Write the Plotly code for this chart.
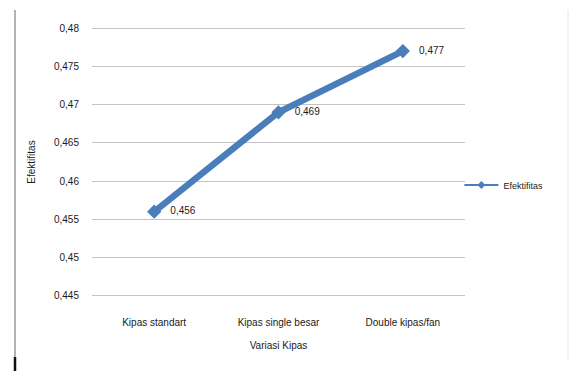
import plotly.graph_objects as go

categories = ["Kipas standart", "Kipas single besar", "Double kipas/fan"]
efektifitas = [0.456, 0.469, 0.477]
value_labels = ["0,456", "0,469", "0,477"]
y_ticks = [0.445, 0.45, 0.455, 0.46, 0.465, 0.47, 0.475, 0.48]
y_tick_labels = ["0,445", "0,45", "0,455", "0,46", "0,465", "0,47", "0,475", "0,48"]

W, H = 570, 371
M_L, M_R, M_T, M_B = 92, 105, 27, 74
FONT = "Liberation Sans"
TXT = "#1A1A1A"
BLUE = "#4A7EBB"

fig = go.Figure()
fig.add_trace(go.Scatter(
    x=categories,
    y=efektifitas,
    mode="lines+markers+text",
    name="Efektifitas",
    showlegend=False,
    line=dict(color=BLUE, width=6.5),
    marker=dict(symbol="diamond", size=11, color=BLUE),
    text=["   " + t for t in value_labels],
    textposition="middle right",
    textfont=dict(family=FONT, size=10, color=TXT),
    cliponaxis=False,
))
# legend key drawn with a thin line, like the spreadsheet style
fig.add_trace(go.Scatter(
    x=[None], y=[None],
    mode="lines+markers",
    name="Efektifitas",
    line=dict(color=BLUE, width=2),
    marker=dict(symbol="diamond", size=6, color=BLUE),
))

plot_w = W - M_L - M_R
plot_h = H - M_T - M_B

fig.update_layout(
    width=W, height=H,
    margin=dict(l=M_L, r=M_R, t=M_T, b=M_B),
    paper_bgcolor="white",
    plot_bgcolor="white",
    font=dict(family=FONT, size=10, color=TXT),
    showlegend=True,
    legend=dict(
        x=0.985, xanchor="left", y=(297 - 185) / plot_h, yanchor="middle",
        font=dict(family=FONT, size=9, color=TXT),
        bgcolor="rgba(0,0,0,0)",
        itemwidth=34,
    ),
    xaxis=dict(
        type="category",
        range=[-0.5, 2.5],
        showgrid=False,
        zeroline=False,
        showline=False,
        ticks="",
        ticklabelstandoff=18,
        tickfont=dict(family=FONT, size=10, color=TXT),
        title=dict(text="Variasi Kipas", font=dict(family=FONT, size=10, color=TXT), standoff=14),
    ),
    yaxis=dict(
        range=[0.44485, 0.48015],
        tickvals=y_ticks,
        ticktext=y_tick_labels,
        showgrid=True,
        gridcolor="#C4C4C4",
        gridwidth=1,
        zeroline=False,
        showline=False,
        ticks="",
        ticklabelstandoff=12,
        tickfont=dict(family=FONT, size=10, color=TXT),
        title=dict(text="Efektifitas", font=dict(family=FONT, size=10, color=TXT), standoff=16),
    ),
)

# outer frame edges of the chart area
fx = (15 - M_L) / plot_w
fig.add_shape(type="line", xref="paper", yref="paper",
              x0=fx, x1=fx, y0=(H - M_B - 371) / plot_h, y1=(H - M_B - 10) / plot_h,
              line=dict(color="#9A9A9A", width=1.5))
fig.add_shape(type="line", xref="paper", yref="paper",
              x0=fx, x1=fx, y0=(H - M_B - 371) / plot_h, y1=(H - M_B - 357) / plot_h,
              line=dict(color="#111111", width=2.5))
rx = (568 - M_L) / plot_w
fig.add_shape(type="line", xref="paper", yref="paper",
              x0=rx, x1=rx, y0=(H - M_B - 360) / plot_h, y1=(H - M_B - 10) / plot_h,
              line=dict(color="#E6E6E6", width=1))

fig.write_html("out.html")
